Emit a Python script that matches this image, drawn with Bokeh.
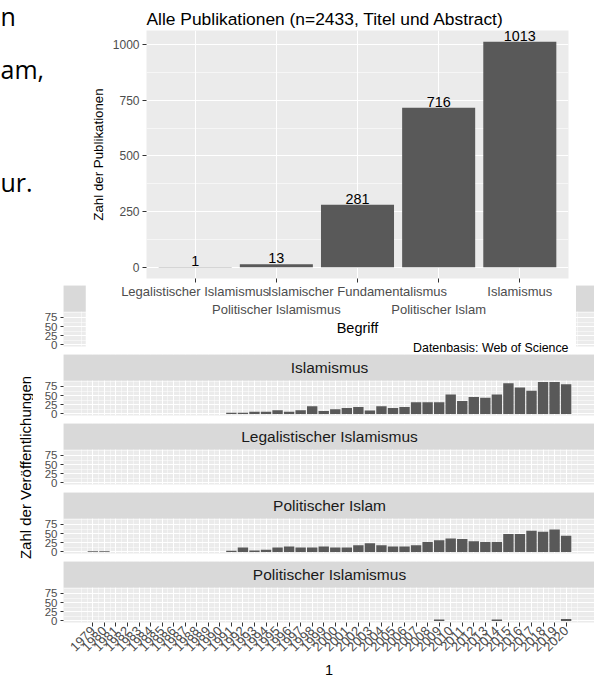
import math
from bokeh.plotting import figure
from bokeh.layouts import column, row
from bokeh.models import (FactorRange, Range1d, FixedTicker, Grid, Label, Title,
                          CategoricalAxis, BoxAnnotation, CustomJSTickFormatter)
from bokeh.core.properties import value
from bokeh.embed import file_html
from bokeh.resources import INLINE

FONT = "Liberation Sans"

# ---------------- data ----------------
chart_title = "Alle Publikationen (n=2433, Titel und Abstract)"
begriffe = ["Legalistischer Islamismus", "Politischer Islamismus",
            "Islamischer Fundamentalismus", "Politischer Islam", "Islamismus"]
anzahl = [1, 13, 281, 716, 1013]
upper_row = ["Legalistischer Islamismus", "Islamischer Fundamentalismus", "Islamismus"]
lower_row = ["Politischer Islamismus", "Politischer Islam"]

years = list(range(1979, 2021))
facet_names = ["Islamischer Fundamentalismus", "Islamismus", "Legalistischer Islamismus",
               "Politischer Islam", "Politischer Islamismus"]

islamismus_years = list(range(1991, 2021))
islamismus_vals = [3, 3, 6, 6, 10, 6, 10, 21, 8, 13,
                   16, 19, 9, 21, 16, 19, 32, 32, 32, 53,
                   35, 46, 44, 53, 84, 72, 63, 87, 87, 81]

pol_islam_years = [1979, 1980] + list(range(1991, 2021))
pol_islam_vals = [2, 2,
                  3, 12, 4, 6, 12, 15, 12, 12, 15, 12,
                  12, 18, 24, 18, 15, 15, 18, 27, 32, 37,
                  35, 29, 27, 27, 49, 49, 58, 55, 61, 44]

pol_islamismus_years = [2009, 2014, 2020]
pol_islamismus_vals = [4, 4, 5]

facet_data = {
    "Islamischer Fundamentalismus": ([], []),
    "Islamismus": (islamismus_years, islamismus_vals),
    "Legalistischer Islamismus": ([], []),
    "Politischer Islam": (pol_islam_years, pol_islam_vals),
    "Politischer Islamismus": (pol_islamismus_years, pol_islamismus_vals),
}

slide_fragments = ["n", "am,", "ur."]

# ---------------- colours ----------------
PANEL = "#EBEBEB"
STRIP = "#D9D9D9"
BAR = "#595959"
TICKLAB = "#4D4D4D"
TICK = "#333333"

# ---------------- top chart ----------------
ymax_top = max(anzahl)
pad_top = 0.05 * ymax_top
top = figure(width=491, height=354,
             x_range=FactorRange(*begriffe, range_padding=0.1, range_padding_units="absolute"),
             y_range=Range1d(-pad_top, ymax_top + pad_top),
             title=chart_title,
             output_backend="svg", toolbar_location=None,
             min_border_left=61, min_border_right=8, min_border_top=30, min_border_bottom=74,
             background_fill_color=PANEL, border_fill_color="white", outline_line_color=None)
top.title.text_font = FONT
top.title.text_font_size = "17.4px"
top.title.text_font_style = "normal"
top.title.text_color = "black"
top.title.align = "left"
top.title.standoff = 3

top.vbar(x=begriffe, top=anzahl, width=0.9, fill_color=BAR, line_color=None)
top.text(x=begriffe, y=anzahl, text=[str(v) for v in anzahl],
         text_align="center", text_baseline="bottom", y_offset=-1,
         text_font=value(FONT), text_font_size="14.4px", text_color="black")

hide_code = "return hide.includes(tick) ? '' : tick;"

ax1 = top.xaxis[0]
ax1.formatter = CustomJSTickFormatter(code=hide_code, args={"hide": lower_row})
ax1.major_tick_out = 4
ax1.major_tick_in = 0
ax1.major_tick_line_color = TICK
ax1.axis_line_color = None
ax1.major_label_standoff = 1
ax1.major_label_text_font = FONT
ax1.major_label_text_font_size = "13px"
ax1.major_label_text_color = TICKLAB

ax2 = CategoricalAxis(formatter=CustomJSTickFormatter(code=hide_code, args={"hide": upper_row}),
                      major_tick_line_color=None, axis_line_color=None,
                      major_tick_out=0, major_tick_in=0, major_label_standoff=0,
                      major_label_text_font=FONT, major_label_text_font_size="13px",
                      major_label_text_color=TICKLAB,
                      axis_label="Begriff", axis_label_standoff=0,
                      axis_label_text_font=FONT, axis_label_text_font_size="14.5px",
                      axis_label_text_font_style="normal", axis_label_text_color="black")
top.add_layout(ax2, "below")

top.add_layout(Title(text="Datenbasis: Web of Science", align="right",
                     text_font=FONT, text_font_size="12.4px", text_font_style="normal",
                     text_color="black", standoff=0), "below")

yax = top.yaxis[0]
yax.ticker = FixedTicker(ticks=[0, 250, 500, 750, 1000], minor_ticks=[125, 375, 625, 875])
yax.minor_tick_line_color = None
yax.major_tick_out = 4
yax.major_tick_in = 0
yax.major_tick_line_color = TICK
yax.axis_line_color = None
yax.major_label_standoff = 3
yax.major_label_text_font = FONT
yax.major_label_text_font_size = "12px"
yax.major_label_text_color = TICKLAB
yax.axis_label = "Zahl der Publikationen"
yax.axis_label_text_font = FONT
yax.axis_label_text_font_size = "13.3px"
yax.axis_label_text_font_style = "normal"
yax.axis_label_text_color = "black"
yax.axis_label_standoff = 4

top.xgrid.grid_line_color = "white"
top.xgrid.grid_line_width = 1.1
top.ygrid.grid_line_color = "white"
top.ygrid.grid_line_width = 1.1
top.ygrid.minor_grid_line_color = "white"
top.ygrid.minor_grid_line_width = 0.55

# ---------------- facets ----------------
span = (years[-1] + 0.45) - (years[0] - 0.45)
x_lo = years[0] - 0.45 - 0.05 * span
x_hi_full = years[-1] + 0.45 + 0.05 * span
full_px, frame_px = 532, 531
x_hi = x_lo + (x_hi_full - x_lo) * frame_px / full_px

all_vals = [v for n in facet_names for v in facet_data[n][1]]
fmax = max(all_vals)
y_lo = -0.05 * fmax
y_top = fmax * 1.05
strip_px, panel_px = 26, 35
y_hi = y_top + strip_px * (y_top - y_lo) / panel_px

ext = [years[0] - 1] + years + [years[-1] + 1]
minor_x = sorted(set([ext[0], ext[-1]] + [a + 0.5 for a in ext[:-1]]))
x_ticker = FixedTicker(ticks=years, minor_ticks=minor_x)

facet_figs = []
for i, name in enumerate(facet_names):
    last = i == len(facet_names) - 1
    f = figure(width=561, height=(strip_px + panel_px + 59) if last else (strip_px + panel_px + 8),
               x_range=Range1d(x_lo, x_hi), y_range=Range1d(y_lo, y_hi),
               output_backend="svg", toolbar_location=None,
               min_border_left=30, min_border_right=0, min_border_top=0,
               min_border_bottom=59 if last else 8,
               x_axis_location="below" if last else None,
               background_fill_color=PANEL, border_fill_color="white", outline_line_color=None)
    yrs, vals = facet_data[name]
    if yrs:
        f.vbar(x=yrs, top=vals, width=0.9, fill_color=BAR, line_color=None)

    if last:
        xa = f.xaxis[0]
        xa.ticker = x_ticker
        xa.minor_tick_line_color = None
        xa.major_tick_out = 4
        xa.major_tick_in = 0
        xa.major_tick_line_color = TICK
        xa.axis_line_color = None
        xa.major_label_orientation = math.pi / 4
        xa.major_label_standoff = 2
        xa.major_label_text_font = FONT
        xa.major_label_text_font_size = "13px"
        xa.major_label_text_color = TICKLAB
        xa.axis_label = "1"
        xa.axis_label_standoff = 7
        xa.axis_label_text_font = FONT
        xa.axis_label_text_font_size = "14.5px"
        xa.axis_label_text_font_style = "normal"
        xa.axis_label_text_color = "black"
        xg = f.xgrid[0]
    else:
        xg = Grid(dimension=0, ticker=x_ticker)
        f.add_layout(xg)
    xg.grid_line_color = "white"
    xg.grid_line_width = 1.0
    xg.minor_grid_line_color = "white"
    xg.minor_grid_line_width = 0.5

    ya = f.yaxis[0]
    ya.ticker = FixedTicker(ticks=[0, 25, 50, 75], minor_ticks=[12.5, 37.5, 62.5, 87.5])
    ya.minor_tick_line_color = None
    ya.major_tick_out = 3
    ya.major_tick_in = 0
    ya.major_tick_line_color = TICK
    ya.axis_line_color = None
    ya.major_label_standoff = 2
    ya.major_label_text_font = FONT
    ya.major_label_text_font_size = "11.5px"
    ya.major_label_text_color = TICKLAB
    f.ygrid.grid_line_color = "white"
    f.ygrid.grid_line_width = 1.0
    f.ygrid.minor_grid_line_color = "white"
    f.ygrid.minor_grid_line_width = 0.5

    f.add_layout(BoxAnnotation(bottom=y_top, fill_color=STRIP, fill_alpha=1.0,
                               line_color=None))
    f.add_layout(Label(x=(x_lo + x_hi_full) / 2, y=(y_top + y_hi) / 2, text=name,
                       text_align="center", text_baseline="middle",
                       text_font=FONT, text_font_size="15.5px", text_color="#1A1A1A"))
    facet_figs.append(f)

block_h = 4 * (strip_px + panel_px + 8) + (strip_px + panel_px + 59)

ylab = figure(width=33, height=block_h, x_range=Range1d(0, 33), y_range=Range1d(block_h, 0),
              min_border=0, x_axis_location=None, y_axis_location=None,
              output_backend="svg", toolbar_location=None,
              background_fill_color="white", border_fill_color="white", outline_line_color=None)
ylab.grid.visible = False
ylab.add_layout(Label(x=25, y=182, text="Zahl der Veröffentlichungen", angle=math.pi / 2,
                      text_align="center", text_baseline="middle",
                      text_font=FONT, text_font_size="15px", text_color="black"))

# ---------------- slide text fragments ----------------
slide_h = 681 - block_h
slide = figure(width=594, height=slide_h, x_range=Range1d(0, 594), y_range=Range1d(slide_h, 0),
               min_border=0, x_axis_location=None, y_axis_location=None,
               output_backend="svg", toolbar_location=None,
               background_fill_color="white", border_fill_color="white", outline_line_color=None)
slide.grid.visible = False
for txt, (lx, ly) in zip(slide_fragments, [(0, 15), (0, 68), (0, 181)]):
    slide.add_layout(Label(x=lx, y=ly, text=txt, text_font="Open Sans",
                           text_font_size="25px", text_baseline="alphabetic",
                           text_color="black"))

bottom_layer = column(slide, row(ylab, column(*facet_figs)))
top.margin = (-681, 0, 0, 85)
root = column(bottom_layer, top)

open("out.html", "w").write(file_html(root, INLINE))
